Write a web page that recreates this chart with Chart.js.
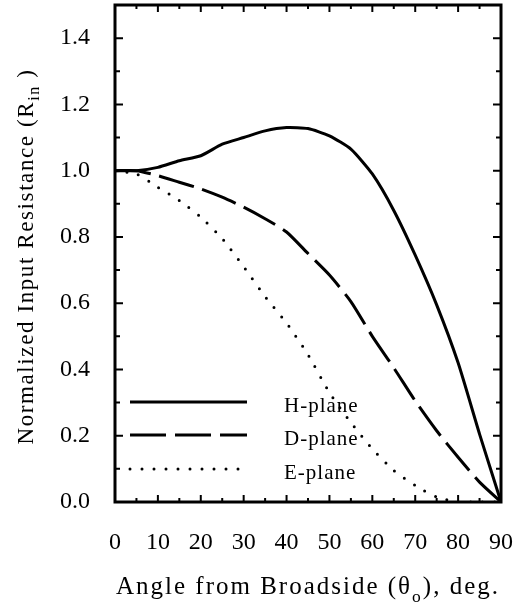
<!DOCTYPE html>
<html>
<head>
<meta charset="utf-8">
<script src="https://cdn.jsdelivr.net/npm/chart.js@4"></script>
<style>
  body { margin: 0; background: #fff; }
</style>
</head>
<body>
<canvas id="rinChart" width="522" height="608"></canvas>
<script>
// scan angle from broadside, degrees
var angles = [0, 5, 10, 15, 20, 25, 30, 35, 40, 45, 50, 55, 60, 65, 70, 75, 80, 85, 90];
// normalized input resistance for each plane
var hPlane = [1.0, 1.0, 1.01, 1.03, 1.045, 1.08, 1.10, 1.12, 1.13, 1.127, 1.105, 1.065, 0.99, 0.88, 0.745, 0.595, 0.42, 0.205, 0.0];
var dPlane = [1.0, 1.0, 0.985, 0.965, 0.945, 0.92, 0.89, 0.855, 0.815, 0.75, 0.685, 0.605, 0.50, 0.405, 0.305, 0.215, 0.135, 0.06, 0.0];
var ePlane = [1.0, 0.99, 0.95, 0.91, 0.86, 0.795, 0.71, 0.62, 0.54, 0.445, 0.33, 0.24, 0.16, 0.095, 0.05, 0.015, 0.0, 0.0, 0.0];
var planeNames = ['H-plane', 'D-plane', 'E-plane'];

var xTickValues = [0, 10, 20, 30, 40, 50, 60, 70, 80, 90];
var yTickValues = [0, 0.2, 0.4, 0.6, 0.8, 1.0, 1.2, 1.4];

var serif = '"Liberation Serif", "DejaVu Serif", serif';

function toPoints(ys) {
  return angles.map(function (a, i) { return { x: a, y: ys[i] }; });
}

// draws a string made of normal and subscript pieces, centred on (cx, cy)
function drawPieces(ctx, pieces, cx, cy, size, spacing) {
  ctx.letterSpacing = spacing + 'px';
  var total = 0;
  pieces.forEach(function (p) {
    ctx.font = (p[1] ? size * 0.7 : size) + 'px ' + serif;
    total += ctx.measureText(p[0]).width;
  });
  var x = cx - total / 2;
  ctx.textBaseline = 'alphabetic';
  ctx.textAlign = 'left';
  pieces.forEach(function (p) {
    ctx.font = (p[1] ? size * 0.7 : size) + 'px ' + serif;
    ctx.fillText(p[0], x, cy + size * 0.33 + (p[1] ? size * 0.3 : 0));
    x += ctx.measureText(p[0]).width;
  });
  ctx.letterSpacing = '0px';
}

// box, inward ticks, axis titles and the in-plot key
var framePlugin = {
  id: 'frame',
  afterDraw: function (chart) {
    var ctx = chart.ctx, a = chart.chartArea;
    var xs = chart.scales.x, ys = chart.scales.y;
    ctx.save();
    ctx.strokeStyle = '#000';
    ctx.lineWidth = 2;
    ctx.beginPath();
    for (var v = 5; v < 90; v += 5) {
      var px = xs.getPixelForValue(v);
      var len = v % 10 === 0 ? 7 : 4;
      ctx.moveTo(px, a.bottom); ctx.lineTo(px, a.bottom - len);
      ctx.moveTo(px, a.top); ctx.lineTo(px, a.top + len);
    }
    for (var i = 1; i < 15; i++) {
      var py = ys.getPixelForValue(i / 10);
      var l = i % 2 === 0 ? 8 : 5;
      ctx.moveTo(a.left, py); ctx.lineTo(a.left + l, py);
      ctx.moveTo(a.right, py); ctx.lineTo(a.right - l, py);
    }
    ctx.stroke();
    ctx.lineWidth = 3;
    ctx.strokeRect(a.left, a.top, a.right - a.left, a.bottom - a.top);

    // key
    var keyY = [402, 435, 469];
    chart.data.datasets.forEach(function (ds, k) {
      ctx.beginPath();
      ctx.lineWidth = ds.borderWidth;
      ctx.lineCap = ds.borderCapStyle || 'butt';
      ctx.setLineDash(ds.borderDash || []);
      ctx.moveTo(130, keyY[k]);
      ctx.lineTo(247, keyY[k]);
      ctx.stroke();
      ctx.setLineDash([]);
      ctx.fillStyle = '#000';
      ctx.font = '21px ' + serif;
      ctx.letterSpacing = '1px';
      ctx.textAlign = 'left';
      ctx.textBaseline = 'middle';
      ctx.fillText(ds.label, 284, keyY[k] + 4);
      ctx.letterSpacing = '0px';
    });

    // axis titles
    ctx.fillStyle = '#000';
    drawPieces(ctx, [['Angle from Broadside (\u03b8', false], ['o', true], ['), deg.', false]],
      (a.left + a.right) / 2, 586, 25, 2);
    ctx.translate(25, (a.top + a.bottom) / 2 + 3);
    ctx.rotate(-Math.PI / 2);
    drawPieces(ctx, [['Normalized Input Resistance (R', false], ['in', true], [' )', false]], 0, 0, 23, 1.6);
    ctx.restore();
  }
};

var styles = [
  { borderDash: [], borderCapStyle: 'butt' },
  { borderDash: [36, 9], borderCapStyle: 'butt' },
  { borderDash: [0, 12], borderCapStyle: 'round' }
];

var series = [hPlane, dPlane, ePlane];

new Chart(document.getElementById('rinChart'), {
  type: 'line',
  data: {
    datasets: series.map(function (s, k) {
      return {
        label: planeNames[k],
        data: toPoints(s),
        borderColor: '#000',
        borderWidth: 3,
        borderDash: styles[k].borderDash,
        borderCapStyle: styles[k].borderCapStyle,
        pointRadius: 0,
        tension: 0.2,
        fill: false
      };
    })
  },
  options: {
    responsive: false,
    animation: false,
    layout: { padding: { top: 5, right: 21, left: 0, bottom: 0 } },
    plugins: { legend: { display: false }, tooltip: { enabled: false } },
    scales: {
      x: {
        type: 'linear',
        min: 0,
        max: 90,
        grid: { display: false, drawTicks: false },
        border: { display: false },
        afterBuildTicks: function (s) { s.ticks = xTickValues.map(function (v) { return { value: v }; }); },
        afterFit: function (s) { s.height = 106; s.paddingLeft = 0; s.paddingRight = 0; },
        ticks: {
          color: '#000',
          font: { family: serif, size: 24 },
          padding: 26,
          maxRotation: 0,
          autoSkip: false
        }
      },
      y: {
        min: 0,
        max: 1.5,
        grid: { display: false, drawTicks: false },
        border: { display: false },
        afterBuildTicks: function (s) { s.ticks = yTickValues.map(function (v) { return { value: v }; }); },
        afterFit: function (s) { s.width = 115; s.paddingTop = 0; s.paddingBottom = 0; },
        ticks: {
          color: '#000',
          font: { family: serif, size: 24 },
          padding: 25,
          callback: function (v) { return v.toFixed(1); }
        }
      }
    }
  },
  plugins: [framePlugin]
});
</script>
</body>
</html>
